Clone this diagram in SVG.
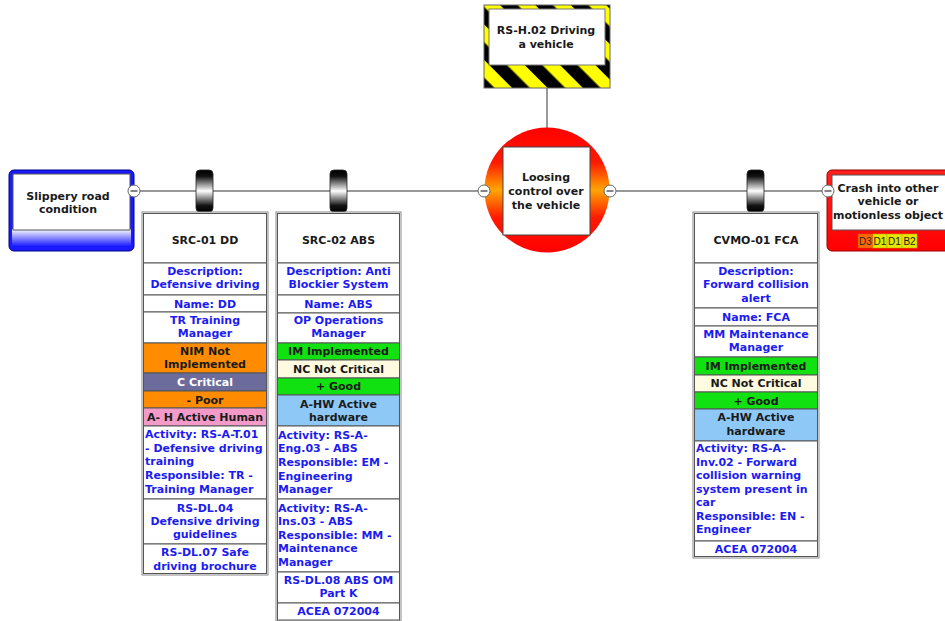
<svg xmlns="http://www.w3.org/2000/svg" width="945" height="621" viewBox="0 0 945 621">
<defs>
<pattern id="hatch" width="25" height="25" patternUnits="userSpaceOnUse" patternTransform="rotate(-45)">
<rect width="25" height="25" fill="#ffff00"/>
<rect width="12.5" height="25" fill="#000"/>
</pattern>
<linearGradient id="circG" x1="0" y1="0" x2="0" y2="1">
<stop offset="0" stop-color="#ff0000"/>
<stop offset="0.28" stop-color="#ff1a00"/>
<stop offset="0.5" stop-color="#ffa500"/>
<stop offset="0.72" stop-color="#ff1a00"/>
<stop offset="1" stop-color="#ff0000"/>
</linearGradient>
<linearGradient id="knobG" x1="0" y1="0" x2="0" y2="1">
<stop offset="0" stop-color="#000"/>
<stop offset="0.15" stop-color="#111"/>
<stop offset="0.5" stop-color="#ffffff"/>
<stop offset="0.85" stop-color="#111"/>
<stop offset="1" stop-color="#000"/>
</linearGradient>
<linearGradient id="blueG" x1="0" y1="0" x2="0" y2="1">
<stop offset="0" stop-color="#ffffff"/>
<stop offset="1" stop-color="#1010ff"/>
</linearGradient>
<linearGradient id="redG" x1="0" y1="0" x2="0" y2="1">
<stop offset="0" stop-color="#ff2020"/>
<stop offset="1" stop-color="#ff0000"/>
</linearGradient>
<g id="minus">
<circle r="6" fill="#fff" stroke="#666" stroke-width="1"/>
<line x1="-3.5" y1="0" x2="3.5" y2="0" stroke="#333" stroke-width="1.2"/>
</g>
</defs>
<style>
text{font-family:"DejaVu Sans","Verdana",sans-serif;font-weight:bold;font-size:11px;text-anchor:middle}
.t{fill:#1a1a1a}
.b{fill:#1c1cf0}
.w{fill:#ffffff}
.l{text-anchor:start}
.col{fill:#fff;stroke:#888;stroke-width:1}
.cell{fill:#fff;stroke:#555;stroke-width:1}
.org{fill:#ff8c00;stroke:#555}
.crit{fill:#6b6b9c;stroke:#555}
.pink{fill:#f49ac8;stroke:#555}
.grn{fill:#11e011;stroke:#555}
.cream{fill:#fffbe0;stroke:#555}
.lblue{fill:#8ec8f6;stroke:#555}
.knob{fill:url(#knobG);stroke:#222;stroke-width:0.8}
.conn{stroke:#777;stroke-width:1.5;fill:none}
.risk{font-family:"Liberation Sans","Arial",sans-serif;font-weight:normal;font-size:10px;fill:#222}
</style>
<rect width="945" height="621" fill="#fff"/>

<g id="connectors">
<line class="conn" x1="547" y1="88" x2="547" y2="128"/>
<line class="conn" x1="140" y1="191" x2="478" y2="191"/>
<line class="conn" x1="616" y1="191" x2="822" y2="191"/>
</g>

<g id="hazard">
<rect x="484" y="5" width="126" height="83" fill="url(#hatch)" stroke="#666" stroke-width="1"/>
<rect x="489" y="9" width="116" height="56" fill="#fff" stroke="#777" stroke-width="1"/>
<text class="t" x="546" y="34">RS-H.02 Driving</text>
<text class="t" x="546" y="48">a vehicle</text>
</g>

<g id="top-event">
<circle cx="547" cy="190" r="62.5" fill="url(#circG)"/>
<rect x="503" y="147" width="87" height="88" fill="#fff" stroke="#444" stroke-width="1"/>
<text class="t" x="546" y="181">Loosing</text>
<text class="t" x="546" y="195">control over</text>
<text class="t" x="546" y="209">the vehicle</text>
<use href="#minus" x="484" y="191"/>
<use href="#minus" x="610" y="191"/>
</g>

<g id="threat">
<rect x="9" y="170" width="125" height="81" rx="5" fill="#1a1aff" stroke="#00008a" stroke-width="1"/>
<rect x="12" y="229" width="119" height="18" fill="url(#blueG)"/>
<rect x="13" y="174" width="117" height="56" fill="#fff" stroke="#555" stroke-width="1"/>
<text class="t" x="68" y="200">Slippery road</text>
<text class="t" x="68" y="213">condition</text>
<use href="#minus" x="134" y="191"/>
</g>

<g id="consequence">
<rect x="827" y="170" width="125" height="81" rx="5" fill="url(#redG)" stroke="#990000" stroke-width="1"/>
<rect x="832" y="175" width="120" height="55" fill="#fff" stroke="#555" stroke-width="1"/>
<text class="t" x="888" y="192">Crash into other</text>
<text class="t" x="888" y="205">vehicle or</text>
<text class="t" x="888" y="219">motionless object</text>
<rect x="858" y="234" width="15" height="14" fill="#ff6a00" stroke="#c05000" stroke-width="0.5"/>
<rect x="873" y="234" width="14" height="14" fill="#e6e600" stroke="#b0b000" stroke-width="0.5"/>
<rect x="887" y="234" width="15" height="14" fill="#e6e600" stroke="#b0b000" stroke-width="0.5"/>
<rect x="902" y="234" width="15" height="14" fill="#e6e600" stroke="#b0b000" stroke-width="0.5"/>
<text class="risk" x="865.5" y="244.5">D3</text>
<text class="risk" x="880" y="244.5">D1</text>
<text class="risk" x="894.5" y="244.5">D1</text>
<text class="risk" x="909.5" y="244.5">B2</text>
<use href="#minus" x="828" y="191"/>
</g>

<g id="barrier-src01">
<rect class="knob" x="196" y="170" width="17" height="42" rx="4"/>
<rect class="col" x="142" y="212" width="126" height="363"/>
<rect class="cell" x="143.5" y="213.5" width="123" height="49.5"/>
<text class="t" x="205" y="244">SRC-01 DD</text>
<rect class="cell" x="143.5" y="263" width="123" height="32"/>
<text class="b" x="205" y="275">Description:</text>
<text class="b" x="205" y="288">Defensive driving</text>
<rect class="cell" x="143.5" y="295" width="123" height="17"/>
<text class="b" x="205" y="307.5">Name: DD</text>
<rect class="cell" x="143.5" y="312" width="123" height="31"/>
<text class="b" x="205" y="324">TR Training</text>
<text class="b" x="205" y="337">Manager</text>
<rect class="org" x="143.5" y="343" width="123" height="30"/>
<text class="t" x="205" y="355">NIM Not</text>
<text class="t" x="205" y="368">Implemented</text>
<rect class="crit" x="143.5" y="373" width="123" height="18"/>
<text class="w" x="205" y="386">C Critical</text>
<rect class="org" x="143.5" y="391" width="123" height="17"/>
<text class="t" x="205" y="403.5">- Poor</text>
<rect class="pink" x="143.5" y="408" width="123" height="18"/>
<text class="t" x="205" y="421">A- H Active Human</text>
<rect class="cell" x="143.5" y="426" width="123" height="73"/>
<text class="b l" x="145" y="438">Activity: RS-A-T.01</text>
<text class="b l" x="145" y="452">- Defensive driving</text>
<text class="b l" x="145" y="465">training</text>
<text class="b l" x="145" y="479">Responsible: TR -</text>
<text class="b l" x="145" y="493">Training Manager</text>
<rect class="cell" x="143.5" y="499" width="123" height="45"/>
<text class="b" x="205" y="512">RS-DL.04</text>
<text class="b" x="205" y="525">Defensive driving</text>
<text class="b" x="205" y="538">guidelines</text>
<rect class="cell" x="143.5" y="544" width="123" height="29.5"/>
<text class="b" x="205" y="556">RS-DL.07 Safe</text>
<text class="b" x="205" y="570">driving brochure</text>
</g>

<g id="barrier-src02">
<rect class="knob" x="330" y="170" width="17" height="42" rx="4"/>
<rect class="col" x="276" y="212" width="125" height="409"/>
<rect class="cell" x="277.5" y="213.5" width="122" height="49.5"/>
<text class="t" x="338.5" y="244">SRC-02 ABS</text>
<rect class="cell" x="277.5" y="263" width="122" height="32"/>
<text class="b" x="338.5" y="275">Description: Anti</text>
<text class="b" x="338.5" y="288">Blockier System</text>
<rect class="cell" x="277.5" y="295" width="122" height="18"/>
<text class="b" x="338.5" y="307.5">Name: ABS</text>
<rect class="cell" x="277.5" y="313" width="122" height="30"/>
<text class="b" x="338.5" y="324">OP Operations</text>
<text class="b" x="338.5" y="337">Manager</text>
<rect class="grn" x="277.5" y="343" width="122" height="17"/>
<text class="t" x="338.5" y="355">IM Implemented</text>
<rect class="cream" x="277.5" y="360" width="122" height="18"/>
<text class="t" x="338.5" y="373">NC Not Critical</text>
<rect class="grn" x="277.5" y="378" width="122" height="17"/>
<text class="t" x="338.5" y="390">+ Good</text>
<rect class="lblue" x="277.5" y="395" width="122" height="31"/>
<text class="t" x="338.5" y="408">A-HW Active</text>
<text class="t" x="338.5" y="421">hardware</text>
<rect class="cell" x="277.5" y="426" width="122" height="73"/>
<text class="b l" x="278" y="439">Activity: RS-A-</text>
<text class="b l" x="278" y="452">Eng.03 - ABS</text>
<text class="b l" x="278" y="466">Responsible: EM -</text>
<text class="b l" x="278" y="480">Engineering</text>
<text class="b l" x="278" y="493">Manager</text>
<rect class="cell" x="277.5" y="499" width="122" height="73"/>
<text class="b l" x="278" y="512">Activity: RS-A-</text>
<text class="b l" x="278" y="525">Ins.03 - ABS</text>
<text class="b l" x="278" y="539">Responsible: MM -</text>
<text class="b l" x="278" y="552">Maintenance</text>
<text class="b l" x="278" y="566">Manager</text>
<rect class="cell" x="277.5" y="572" width="122" height="31"/>
<text class="b" x="338.5" y="584">RS-DL.08 ABS OM</text>
<text class="b" x="338.5" y="597">Part K</text>
<rect class="cell" x="277.5" y="603" width="122" height="17"/>
<text class="b" x="338.5" y="615">ACEA 072004</text>
</g>

<g id="barrier-cvmo01">
<rect class="knob" x="747" y="170" width="17" height="42" rx="4"/>
<rect class="col" x="693" y="212" width="126" height="346"/>
<rect class="cell" x="694.5" y="213.5" width="123" height="49.5"/>
<text class="t" x="756" y="244">CVMO-01 FCA</text>
<rect class="cell" x="694.5" y="263" width="123" height="45"/>
<text class="b" x="756" y="275">Description:</text>
<text class="b" x="756" y="288">Forward collision</text>
<text class="b" x="756" y="302">alert</text>
<rect class="cell" x="694.5" y="308" width="123" height="18"/>
<text class="b" x="756" y="320.5">Name: FCA</text>
<rect class="cell" x="694.5" y="326" width="123" height="31"/>
<text class="b" x="756" y="338">MM Maintenance</text>
<text class="b" x="756" y="351">Manager</text>
<rect class="grn" x="694.5" y="357" width="123" height="18"/>
<text class="t" x="756" y="369.5">IM Implemented</text>
<rect class="cream" x="694.5" y="375" width="123" height="17"/>
<text class="t" x="756" y="387">NC Not Critical</text>
<rect class="grn" x="694.5" y="392" width="123" height="17"/>
<text class="t" x="756" y="404.5">+ Good</text>
<rect class="lblue" x="694.5" y="409" width="123" height="32"/>
<text class="t" x="756" y="421">A-HW Active</text>
<text class="t" x="756" y="435">hardware</text>
<rect class="cell" x="694.5" y="441" width="123" height="100"/>
<text class="b l" x="696" y="452">Activity: RS-A-</text>
<text class="b l" x="696" y="466">Inv.02 - Forward</text>
<text class="b l" x="696" y="479">collision warning</text>
<text class="b l" x="696" y="493">system present in</text>
<text class="b l" x="696" y="506">car</text>
<text class="b l" x="696" y="520">Responsible: EN -</text>
<text class="b l" x="696" y="533">Engineer</text>
<rect class="cell" x="694.5" y="541" width="123" height="15.5"/>
<text class="b" x="756" y="553">ACEA 072004</text>
</g>
</svg>
